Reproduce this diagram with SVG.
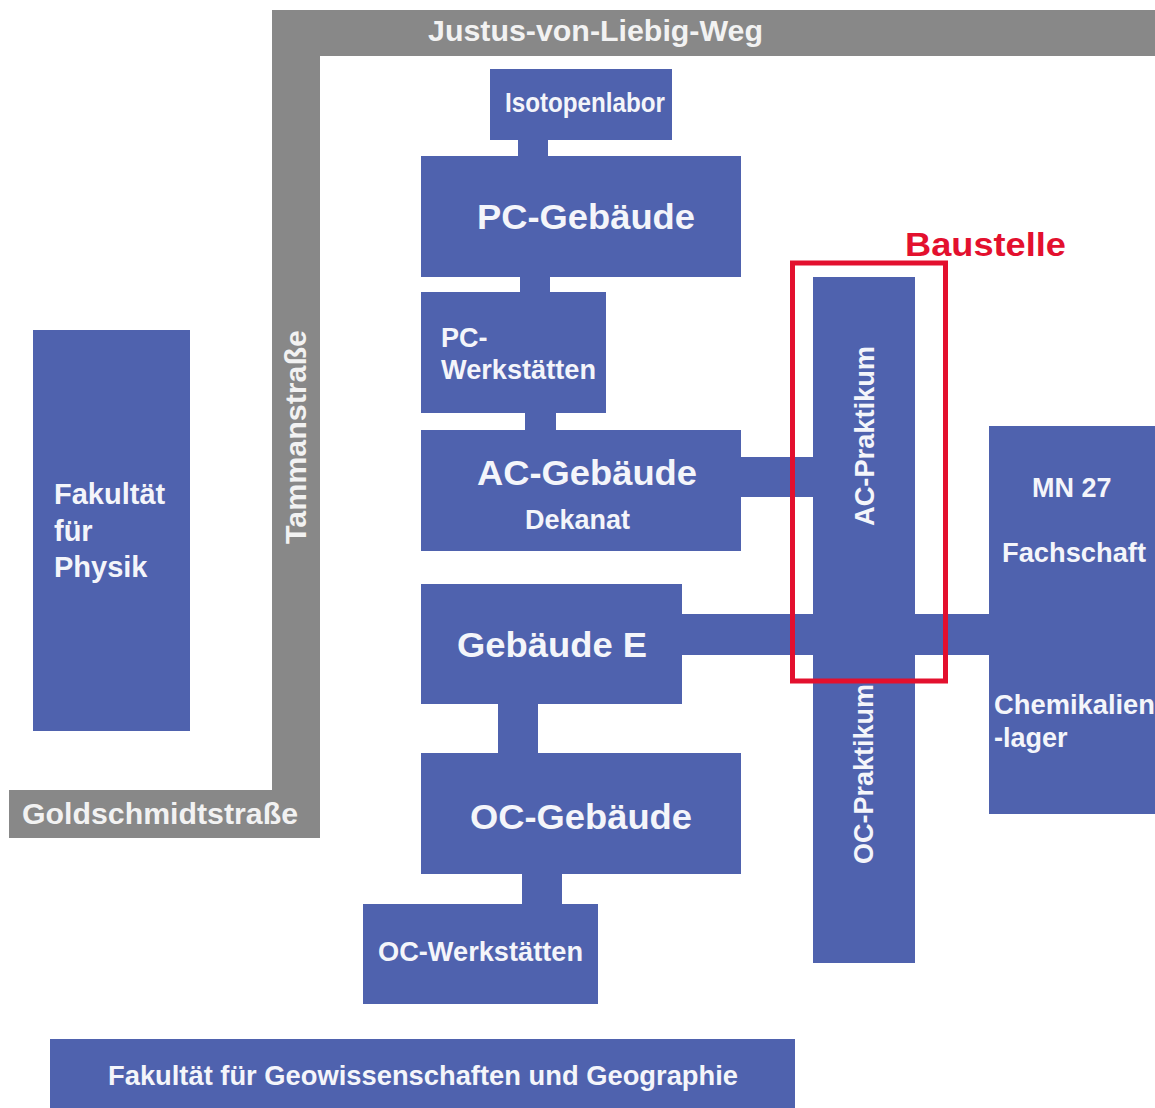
<svg xmlns="http://www.w3.org/2000/svg" width="1155" height="1108" viewBox="0 0 1155 1108">
<style>
.b{fill:#4f62ae}
.r{fill:#888888}
text{font-family:"Liberation Sans",Arial,sans-serif;font-weight:bold;fill:#f4f5fa}
.s{font-size:27px}
.m{font-size:29px}
.l{font-size:35px}
.g{fill:#f2f2f2;font-size:29px}
</style>
<rect width="1155" height="1108" fill="#fff"/>
<g id="roads">
<path class="r" d="M272 10H1155V56H320V838H9V790H272Z"/>
<text class="g" x="428" y="41" textLength="335" lengthAdjust="spacingAndGlyphs">Justus-von-Liebig-Weg</text>
<text class="g" x="22" y="824" textLength="276" lengthAdjust="spacingAndGlyphs">Goldschmidtstraße</text>
<text class="g" transform="translate(306,544) rotate(-90)" textLength="214" lengthAdjust="spacingAndGlyphs">Tammanstraße</text>
</g>
<g id="connectors">
<rect class="b" x="518" y="139" width="30" height="18"/>
<rect class="b" x="520" y="277" width="30" height="16"/>
<rect class="b" x="525" y="412" width="31" height="19"/>
<rect class="b" x="741" y="457" width="73" height="40"/>
<rect class="b" x="682" y="614" width="307" height="41"/>
<rect class="b" x="498" y="703" width="40" height="51"/>
<rect class="b" x="522" y="873" width="40" height="32"/>
</g>
<g id="physik"><rect class="b" x="33" y="330" width="157" height="401"/>
<text class="m" x="54" y="504">Fakultät</text><text class="m" x="54" y="541">für</text><text class="m" x="54" y="577">Physik</text></g>
<g id="isotopenlabor"><rect class="b" x="490" y="69" width="182" height="71"/><text class="s" x="505" y="112" textLength="160" lengthAdjust="spacingAndGlyphs">Isotopenlabor</text></g>
<g id="pc-gebaeude"><rect class="b" x="421" y="156" width="320" height="121"/><text class="l" x="477" y="229" textLength="218" lengthAdjust="spacingAndGlyphs">PC-Gebäude</text></g>
<g id="pc-werkstaetten"><rect class="b" x="421" y="292" width="185" height="121"/><text class="s" x="441" y="347">PC-</text><text class="s" x="441" y="379" textLength="155" lengthAdjust="spacingAndGlyphs">Werkstätten</text></g>
<g id="ac-gebaeude"><rect class="b" x="421" y="430" width="320" height="121"/><text class="l" x="477" y="485" textLength="220" lengthAdjust="spacingAndGlyphs">AC-Gebäude</text><text class="s" x="525" y="529">Dekanat</text></g>
<g id="gebaeude-e"><rect class="b" x="421" y="584" width="261" height="120"/><text class="l" x="457" y="657" textLength="190" lengthAdjust="spacingAndGlyphs">Gebäude E</text></g>
<g id="oc-gebaeude"><rect class="b" x="421" y="753" width="320" height="121"/><text class="l" x="470" y="829" textLength="222" lengthAdjust="spacingAndGlyphs">OC-Gebäude</text></g>
<g id="oc-werkstaetten"><rect class="b" x="363" y="904" width="235" height="100"/><text class="s" x="378" y="961" textLength="205" lengthAdjust="spacingAndGlyphs">OC-Werkstätten</text></g>
<g id="praktikum"><rect class="b" x="813" y="277" width="102" height="686"/>
<text class="s" transform="translate(874,526) rotate(-90)" textLength="180" lengthAdjust="spacingAndGlyphs">AC-Praktikum</text>
<text class="s" transform="translate(873,864) rotate(-90)" textLength="180" lengthAdjust="spacingAndGlyphs">OC-Praktikum</text></g>
<g id="mn27"><rect class="b" x="989" y="426" width="166" height="388"/>
<text class="s" x="1032" y="497">MN 27</text><text class="s" x="1002" y="562" textLength="144" lengthAdjust="spacingAndGlyphs">Fachschaft</text><text class="s" x="994" y="714" textLength="161" lengthAdjust="spacingAndGlyphs">Chemikalien</text><text class="s" x="994" y="747">-lager</text></g>
<g id="geowissenschaften"><rect class="b" x="50" y="1039" width="745" height="69"/><text class="s" x="108" y="1085" textLength="630" lengthAdjust="spacingAndGlyphs">Fakultät für Geowissenschaften und Geographie</text></g>
<g id="baustelle"><rect x="792.500" y="263" width="153" height="418" fill="none" stroke="#e3102e" stroke-width="5"/><text x="905" y="256" font-size="34" textLength="161" lengthAdjust="spacingAndGlyphs" style="fill:#e3102e">Baustelle</text></g>
</svg>
